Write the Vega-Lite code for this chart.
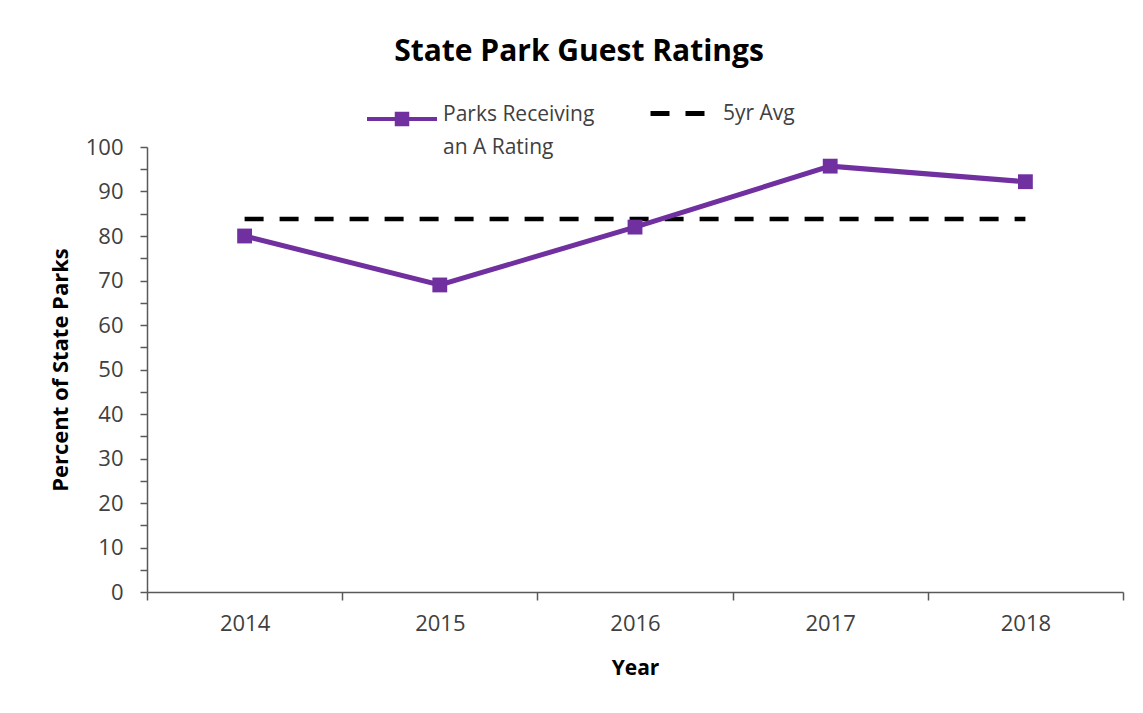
{
  "$schema": "https://vega.github.io/schema/vega-lite/v6.json",
  "width": 976,
  "height": 445,
  "autosize": {"type": "none"},
  "padding": {"left": 147, "top": 147, "right": 20, "bottom": 121},
  "background": "white",
  "config": {
    "view": {"stroke": null},
    "font": "Open Sans",
    "axis": {"domainColor": "#595959", "tickColor": "#595959", "labelColor": "#404040", "titleColor": "#000000", "domainWidth": 1.5, "tickWidth": 1.5}
  },
  "title": {
    "text": "State Park Guest Ratings",
    "font": "Open Sans",
    "fontSize": 30,
    "fontWeight": "bold",
    "color": "#000000",
    "anchor": "middle",
    "frame": "group",
    "baseline": "alphabetic",
    "offset": -9,
    "dx": -56
  },
  "datasets": {
    "ratings": [
      {"Year": "2014", "series": "Parks Receiving an A Rating", "value": 80},
      {"Year": "2015", "series": "Parks Receiving an A Rating", "value": 69},
      {"Year": "2016", "series": "Parks Receiving an A Rating", "value": 82},
      {"Year": "2017", "series": "Parks Receiving an A Rating", "value": 95.7},
      {"Year": "2018", "series": "Parks Receiving an A Rating", "value": 92.2}
    ],
    "avg": [
      {"Year": "2014", "series": "5yr Avg", "value": 83.8},
      {"Year": "2015", "series": "5yr Avg", "value": 83.8},
      {"Year": "2016", "series": "5yr Avg", "value": 83.8},
      {"Year": "2017", "series": "5yr Avg", "value": 83.8},
      {"Year": "2018", "series": "5yr Avg", "value": 83.8}
    ]
  },
  "encoding": {
    "x": {
      "field": "Year",
      "type": "ordinal",
      "scale": {"type": "band", "paddingInner": 0, "paddingOuter": 0},
      "axis": {
        "title": "Year",
        "labelAngle": 0,
        "labelFontSize": 22,
        "labelPadding": 13,
        "tickBand": "extent",
        "tickSize": 8,
        "titleFontSize": 21,
        "titleFontWeight": "bold",
        "titlePadding": 23
      }
    },
    "y": {
      "field": "value",
      "type": "quantitative",
      "scale": {"domain": [0, 100], "nice": false},
      "axis": {
        "title": "Percent of State Parks",
        "values": [0, 5, 10, 15, 20, 25, 30, 35, 40, 45, 50, 55, 60, 65, 70, 75, 80, 85, 90, 95, 100],
        "labelExpr": "datum.value % 10 === 0 ? datum.label : ''",
        "labelFontSize": 22,
        "labelPadding": 17,
        "tickSize": 7,
        "grid": false,
        "titleFontSize": 22,
        "titleFontWeight": "bold",
        "titlePadding": 13,
        "encode": {"ticks": {"update": {"x": [{"test": "datum.value % 10 === 0", "value": 8}, {"value": 0}]}}}
      }
    }
  },
  "layer": [
    {
      "data": {"name": "avg"},
      "mark": {"type": "line", "color": "#000000", "strokeWidth": 4.5, "strokeCap": "butt"},
      "encoding": {
        "strokeDash": {
          "field": "series",
          "type": "nominal",
          "scale": {"domain": ["5yr Avg"], "range": [[19, 16]]},
          "legend": {
            "title": null,
            "orient": "none",
            "legendX": 501,
            "legendY": -65,
            "symbolType": "stroke",
            "symbolSize": 3364,
            "symbolStrokeWidth": 5,
            "symbolStrokeColor": "#000000",
            "labelFontSize": 21,
            "labelColor": "#404040",
            "labelOffset": 12
          }
        }
      }
    },
    {
      "data": {"name": "ratings"},
      "mark": {"type": "line", "strokeWidth": 5},
      "encoding": {
        "color": {
          "field": "series",
          "type": "nominal",
          "scale": {"domain": ["Parks Receiving an A Rating"], "range": ["#7030A0"]},
          "legend": {
            "title": null,
            "orient": "none",
            "legendX": 218,
            "legendY": -65,
            "symbolType": "M-1,0L1,0M-0.15,-0.15L0.15,-0.15L0.15,0.15L-0.15,0.15Z",
            "symbolSize": 4900,
            "symbolStrokeWidth": 4,
            "symbolFillColor": "#7030A0",
            "labelFontSize": 21,
            "labelColor": "#404040",
            "labelOffset": 4,
            "labelExpr": "datum.label == 'Parks Receiving an A Rating' ? ['Parks Receiving', 'an A Rating'] : datum.label",
            "labelBaseline": "top",
            "encode": {
              "symbols": {"update": {"fill": {"value": "#7030A0"}, "stroke": {"value": "#7030A0"}}},
              "labels": {"update": {"lineHeight": {"value": 33}, "dy": {"value": -15}}}
            }
          }
        }
      }
    },
    {
      "data": {"name": "ratings"},
      "mark": {"type": "point", "shape": "square", "filled": true, "size": 220, "color": "#7030A0", "opacity": 1}
    }
  ]
}
